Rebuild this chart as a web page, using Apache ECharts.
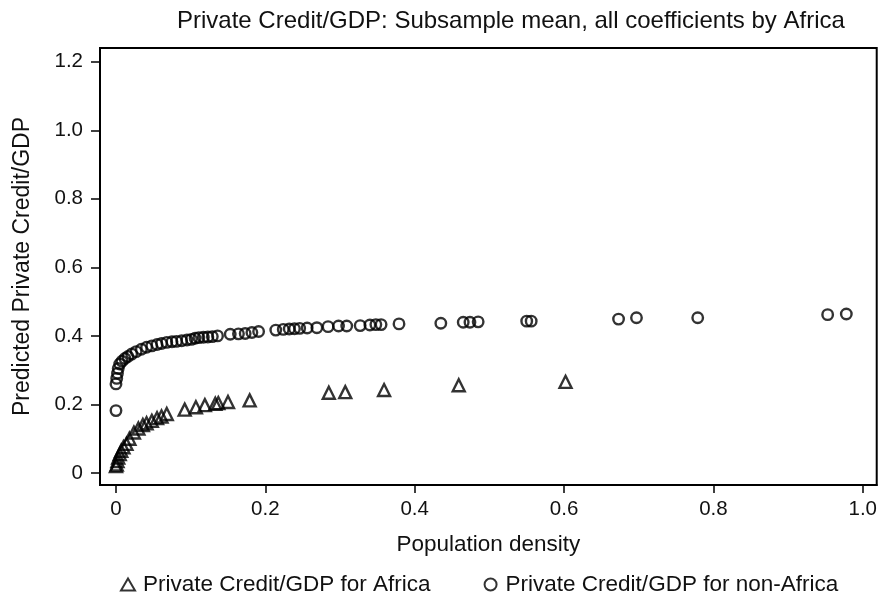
<!DOCTYPE html>
<html>
<head>
<meta charset="utf-8">
<script src="https://cdn.jsdelivr.net/npm/echarts@6/dist/echarts.min.js"></script>
<style>
html,body{margin:0;padding:0;background:#fff;}
#chart{width:880px;height:595px;}
</style>
</head>
<body>
<div id="chart"></div>
<script>
const titleText = "Private Credit/GDP: Subsample mean, all coefficients by Africa";
const xAxisName = "Population density";
const yAxisName = "Predicted Private Credit/GDP";
const seriesNames = ["Private Credit/GDP for Africa", "Private Credit/GDP for non-Africa"];
const xTicks = [0, 0.2, 0.4, 0.6, 0.8, 1.0];
const yTicks = [0, 0.2, 0.4, 0.6, 0.8, 1.0, 1.2];

const africaX = [0.000,0.001,0.002,0.003,0.005,0.007,0.010,0.014,0.018,0.024,0.030,0.036,0.041,0.048,0.055,0.061,0.068,0.092,0.107,0.119,0.133,0.137,0.150,0.179,0.285,0.307,0.359,0.459,0.602];
const africaY = [0.020,0.025,0.035,0.045,0.055,0.065,0.075,0.085,0.100,0.118,0.130,0.140,0.145,0.152,0.160,0.165,0.172,0.185,0.192,0.198,0.202,0.204,0.207,0.212,0.234,0.236,0.242,0.256,0.266];

const nonAfricaX = [0.000,0.000,0.001,0.002,0.003,0.005,0.008,0.012,0.016,0.021,0.027,0.034,0.041,0.048,0.055,0.061,0.068,0.075,0.081,0.088,0.095,0.101,0.106,0.111,0.117,0.123,0.129,0.136,0.153,0.164,0.173,0.182,0.191,0.214,0.224,0.232,0.239,0.246,0.256,0.269,0.284,0.298,0.309,0.327,0.340,0.348,0.355,0.379,0.435,0.465,0.474,0.485,0.550,0.556,0.673,0.697,0.779,0.953,0.978];
const nonAfricaY = [0.182,0.260,0.276,0.291,0.305,0.318,0.326,0.334,0.340,0.347,0.354,0.361,0.367,0.371,0.375,0.378,0.381,0.383,0.384,0.386,0.388,0.390,0.393,0.395,0.396,0.397,0.398,0.400,0.405,0.406,0.407,0.410,0.413,0.417,0.419,0.420,0.421,0.422,0.423,0.424,0.427,0.429,0.429,0.430,0.432,0.433,0.433,0.435,0.437,0.440,0.440,0.441,0.443,0.443,0.449,0.453,0.453,0.462,0.464];

const africa = africaX.map((x, i) => [x, africaY[i]]);
const nonAfrica = nonAfricaX.map((x, i) => [x, nonAfricaY[i]]);

const FONT = "'Liberation Sans', Arial, Helvetica, sans-serif";
const TXT = '#111';
const fmt = v => (Math.abs(v) < 1e-9 ? '0' : v.toFixed(1));

const chart = echarts.init(document.getElementById('chart'), null, {renderer: 'canvas'});
chart.setOption({
  backgroundColor: '#fff',
  animation: false,
  title: {
    text: titleText,
    left: 172,
    top: 4,
    textStyle: {fontFamily: FONT, fontSize: 24, fontWeight: 'normal', color: TXT}
  },
  grid: {left: 100, right: 3, top: 48, bottom: 110, show: true, borderColor: '#000', borderWidth: 2, backgroundColor: '#fff'},
  legend: {
    top: 568,
    left: 115,
    itemGap: 53,
    itemWidth: 14,
    itemHeight: 12,
    textStyle: {fontFamily: FONT, fontSize: 22.5, color: TXT, padding: [0, 0, 0, 3]},
    data: [
      {name: seriesNames[0], icon: 'triangle'},
      {name: seriesNames[1], icon: 'circle'}
    ]
  },
  xAxis: {
    type: 'value',
    min: -0.0214,
    max: 1.0187,
    name: xAxisName,
    nameLocation: 'middle',
    nameGap: 48,
    nameTextStyle: {fontFamily: FONT, fontSize: 22.5, color: TXT},
    axisLine: {show: true, onZero: false, lineStyle: {color: '#000', width: 2}},
    axisTick: {show: true, length: 8, lineStyle: {color: '#000', width: 1.5}, customValues: xTicks},
    axisLabel: {fontFamily: FONT, fontSize: 20.5, color: TXT, margin: 14, formatter: fmt, customValues: xTicks},
    splitLine: {show: false}
  },
  yAxis: {
    type: 'value',
    min: -0.035,
    max: 1.24,
    name: yAxisName,
    nameLocation: 'middle',
    nameGap: 66,
    nameTextStyle: {fontFamily: FONT, fontSize: 23, color: TXT},
    axisLine: {show: true, onZero: false, lineStyle: {color: '#000', width: 2}},
    axisTick: {show: true, length: 9, lineStyle: {color: '#000', width: 1.5}, customValues: yTicks},
    axisLabel: {fontFamily: FONT, fontSize: 20.5, color: TXT, margin: 17, formatter: fmt, customValues: yTicks},
    splitLine: {show: false}
  },
  series: [
    {
      name: seriesNames[0],
      type: 'scatter',
      data: africa,
      symbol: 'triangle',
      symbolSize: 12,
      itemStyle: {color: 'transparent', borderColor: '#000', borderWidth: 2.4}
    },
    {
      name: seriesNames[1],
      type: 'scatter',
      data: nonAfrica,
      symbol: 'circle',
      symbolSize: 10.5,
      itemStyle: {color: 'transparent', borderColor: '#000', borderWidth: 2.4}
    }
  ]
});
</script>
</body>
</html>
